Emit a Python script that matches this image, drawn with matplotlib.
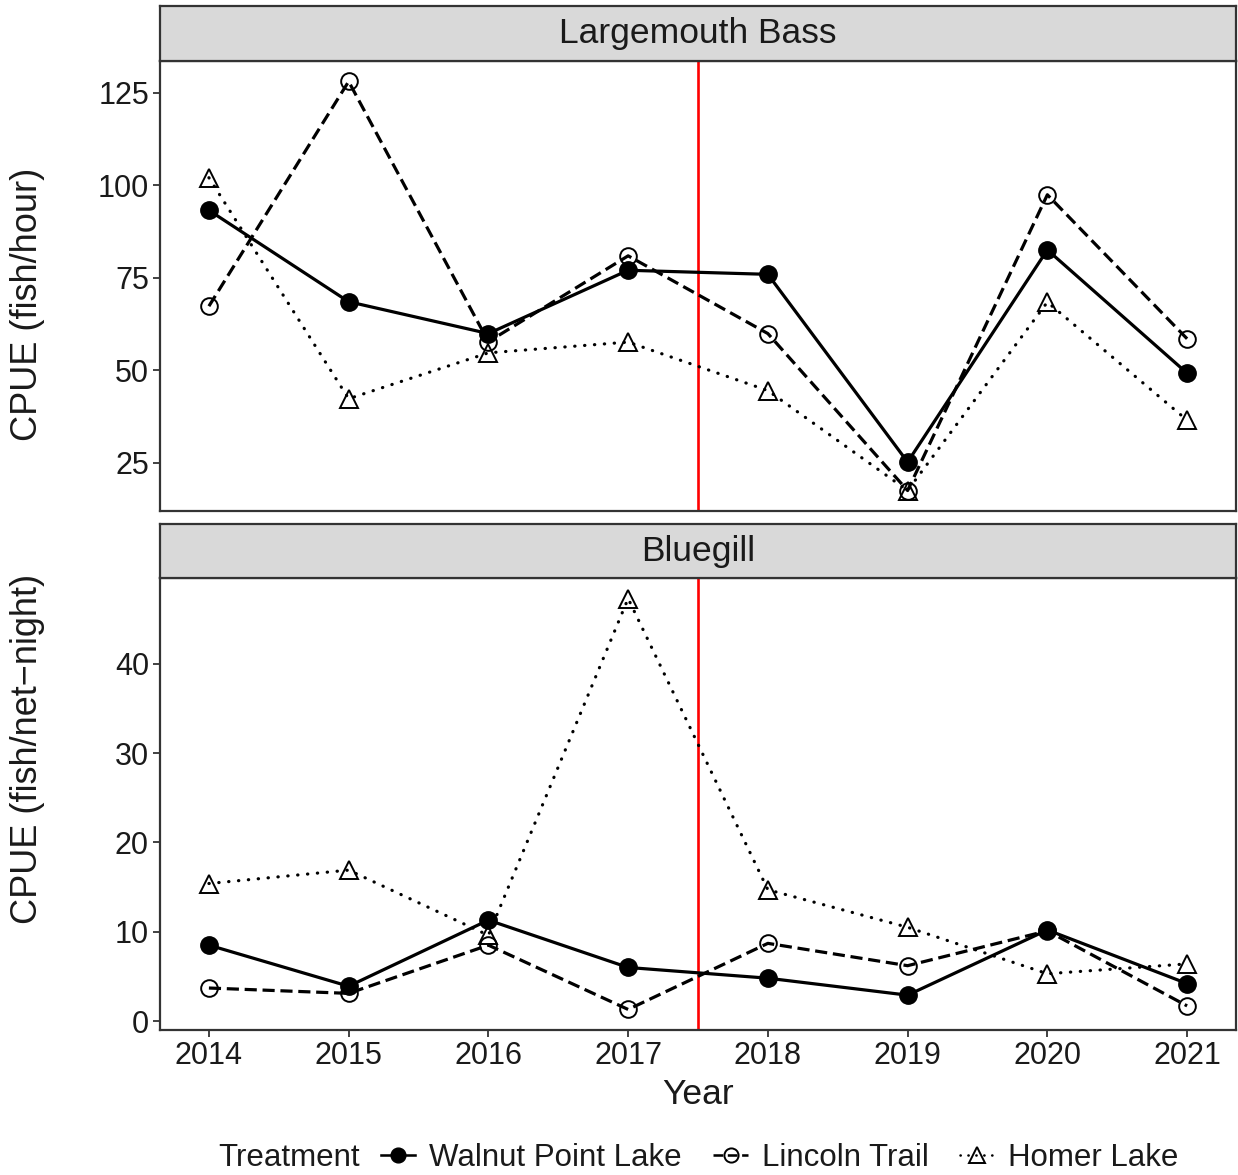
import matplotlib
matplotlib.use("Agg")
import matplotlib.pyplot as plt
from matplotlib.lines import Line2D

plt.rcParams['font.family'] = ['Liberation Sans', 'DejaVu Sans']

# ---- data -------------------------------------------------------------
years = [2014, 2015, 2016, 2017, 2018, 2019, 2020, 2021]
lakes = ["Walnut Point Lake", "Lincoln Trail", "Homer Lake"]

# Largemouth Bass CPUE (fish/hour)
lmb_walnut = [93.2, 68.5, 59.9, 77.0, 75.9, 25.2, 82.5, 49.2]
lmb_lincoln = [67.3, 128.0, 57.7, 80.9, 59.9, 17.5, 97.4, 58.5]
lmb_homer = [102.0, 42.3, 54.7, 57.6, 44.5, 17.5, 68.4, 36.5]

# Bluegill CPUE (fish/net-night)
blg_walnut = [8.5, 3.9, 11.3, 6.0, 4.8, 2.9, 10.2, 4.2]
blg_lincoln = [3.7, 3.1, 8.5, 1.3, 8.7, 6.2, 10.1, 1.7]
blg_homer = [15.4, 16.9, 9.6, 47.3, 14.7, 10.5, 5.3, 6.4]

treatment_break = 2017.5
y_ticks_lmb = [25, 50, 75, 100, 125]
y_ticks_blg = [0, 10, 20, 30, 40]

# ---- styles -----------------------------------------------------------
W, H = 1238, 1175
DPI = 100
dark = "#333333"
txt = "#1a1a1a"
tick_fs = 22
title_fs = 26
LW = 2.3

styles = {
    "Walnut Point Lake": dict(color="black", linestyle="-", marker="o",
                              markersize=12.5, markerfacecolor="black",
                              markeredgecolor="black"),
    "Lincoln Trail": dict(color="black", linestyle=(0, (3.8, 1.8)), marker="o",
                          markersize=12, markerfacecolor="none",
                          markeredgecolor="black", markeredgewidth=1.4),
    "Homer Lake": dict(color="black", linestyle=(0, (0.1, 3.0)), marker="^",
                       markersize=13.5, markerfacecolor="none",
                       markeredgecolor="black", markeredgewidth=1.4,
                       dash_capstyle="round"),
}

fig = plt.figure(figsize=(W / DPI, H / DPI), dpi=DPI)
fig.patch.set_facecolor("white")


def fx(px):
    return px / W


def fy(py):
    return 1 - py / H


def panel_axes(top_px, bottom_px):
    return fig.add_axes([fx(160), fy(bottom_px), fx(1236 - 160),
                         (bottom_px - top_px) / H])


def strip(top_px, bottom_px, label):
    s = fig.add_axes([fx(160), fy(bottom_px), fx(1236 - 160),
                      (bottom_px - top_px) / H])
    s.set_facecolor("#d9d9d9")
    s.set_xticks([])
    s.set_yticks([])
    for sp in s.spines.values():
        sp.set_color(dark)
        sp.set_linewidth(1.6)
    s.text(0.5, 0.5, label, transform=s.transAxes, ha="center", va="center",
           fontsize=title_fs - 0.5, color=txt)
    return s


def expand(vals):
    lo, hi = min(vals), max(vals)
    pad = 0.05 * (hi - lo)
    return lo - pad, hi + pad


def draw_panel(ax, series, yticks, show_x):
    ax.axvline(treatment_break, color="red", lw=1.9, zorder=1)
    for name, vals in zip(lakes, series):
        st = styles[name]
        ax.plot(years, vals, lw=LW, zorder=3, **st)
    allv = [v for s in series for v in s]
    ax.set_ylim(*expand(allv))
    xpad = 0.05 * (years[-1] - years[0])
    ax.set_xlim(years[0] - xpad, years[-1] + xpad)
    ax.set_yticks(yticks)
    ax.set_xticks(years)
    ax.tick_params(axis="both", direction="out", length=5, width=1.3,
                   color=dark, labelsize=tick_fs, labelcolor=txt, pad=3)
    if not show_x:
        ax.tick_params(axis="x", length=0, labelbottom=False)
    else:
        ax.set_xticklabels([str(y) for y in years])
    for sp in ax.spines.values():
        sp.set_color(dark)
        sp.set_linewidth(1.6)
    ax.set_facecolor("white")


ax1 = panel_axes(61, 511)
draw_panel(ax1, [lmb_walnut, lmb_lincoln, lmb_homer], y_ticks_lmb, False)
strip(6, 61, "Largemouth Bass")

ax2 = panel_axes(578, 1030)
draw_panel(ax2, [blg_walnut, blg_lincoln, blg_homer], y_ticks_blg, True)
strip(524, 578, "Bluegill")

fig.text(fx(28), fy(304), "CPUE (fish/hour)", rotation=90, ha="center",
         va="center", fontsize=title_fs, color=txt)
fig.text(fx(28), fy(749), "CPUE (fish/net\u2212night)", rotation=90,
         ha="center", va="center", fontsize=title_fs, color=txt)
fig.text(fx(698), fy(1094), "Year", ha="center", va="center",
         fontsize=title_fs - 0.5, color=txt)

# legend row
legend_fs = 22.5
fig.text(fx(218), fy(1158), "Treatment", ha="left", va="center",
         fontsize=legend_fs, color=txt)
handles = []
for name in lakes:
    st = dict(styles[name])
    st["markersize"] = st["markersize"] * 0.85
    handles.append(Line2D([], [], lw=LW * 0.8, **st))
leg = fig.legend(handles, lakes, loc="center left",
                 bbox_to_anchor=(fx(381), fy(1158)), ncol=3, frameon=False,
                 fontsize=legend_fs, handlelength=1.1, handletextpad=0.45,
                 columnspacing=1.0, borderpad=0, borderaxespad=0)
for t in leg.get_texts():
    t.set_color(txt)

fig.savefig("out.png", dpi=DPI, facecolor="white")
